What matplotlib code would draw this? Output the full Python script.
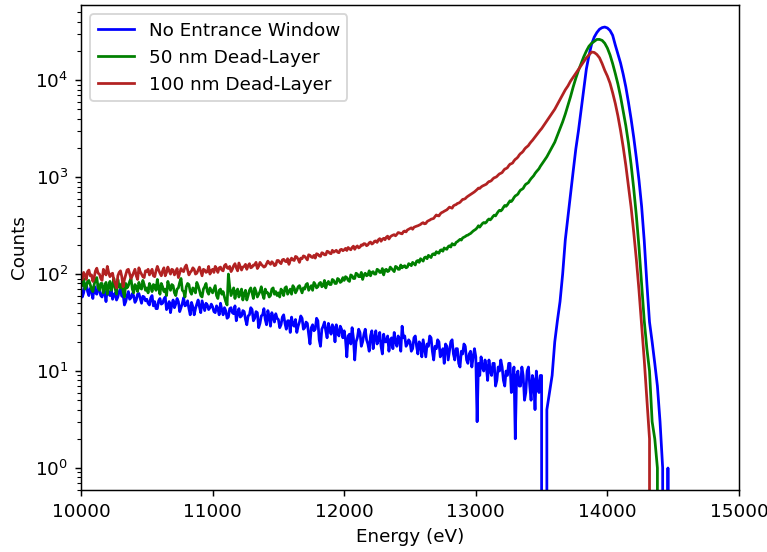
import numpy as np
import matplotlib
matplotlib.use("Agg")
import matplotlib.pyplot as plt

# ---- Data -------------------------------------------------------------
# Low-energy part: 10 eV bins from 10000 eV; peak part: 20 eV bins from 13500 eV
noisy_start, noisy_step = 10000, 10
peak_start, peak_step = 13500, 20

no_window_low = [
    72,58, 64,76, 80,66, 60,71, 70,56, 75,64, 62,78, 68,60, 58,67, 66,52, 72,63, 60,69, 55,61, 64,54, 58,66, 70,59, 62,48, 52,60, 66,55, 57,63, 60,51, 54,62, 63,56, 50,59, 58,53,
    55,50, 48,57, 60,47, 52,44, 44,53, 56,49, 50,55, 58,43, 46,52, 40,48, 54,45, 49,56, 52,41, 45,50, 57,47, 48,53, 44,38, 51,46, 38,44, 49,54, 46,40, 53,47, 42,50, 48,43, 45,49,
    46,41, 40,47, 44,38, 50,43, 38,45, 42,35, 36,44, 45,40, 39,47, 33,39, 44,36, 37,42, 41,34, 30,37, 38,45, 43,33, 35,41, 40,28, 31,37, 38,44, 34,30, 42,36, 29,40, 36,32, 39,35,
    34,28, 30,36, 38,31, 27,33, 33,25, 36,30, 29,34, 25,29, 32,37, 35,27, 28,32, 31,24, 19,28, 30,26, 27,35, 33,21, 18,27, 29,32, 26,22, 31,27, 24,30, 28,20, 30,25, 23,29, 27,22,
    26,21, 14,23, 24,19, 28,22, 13,20, 22,27, 25,18, 20,24, 27,21, 19,16, 23,26, 17,22, 26,19, 21,25, 18,15, 24,20, 20,23, 16,21, 22,17, 25,20, 18,23, 21,16, 29,22, 23,18, 19,21,
    20,16, 17,22, 23,18, 15,20, 19,14, 21,17, 14,19, 18,23, 22,16, 13,18, 17,21, 20,14, 15,17, 12,19, 18,13, 16,20, 21,15, 13,17, 17,12, 11,16, 15,19, 18,13, 12,15, 16,11, 14,17,
    14,3, 12,9, 14,11, 10,13, 11,8, 13,10, 9,12, 12,7, 8,11, 10,13, 11,8, 7,10, 9,12, 12,6, 8,11, 2,9, 10,7, 7,11, 9,5, 6,10, 11,7, 5,9, 8,4, 10,7, 6,9,
]
no_window_peak = [
    9, 0, 4, 6, 9, 20, 33, 52, 100, 225, 390, 680, 1150, 1950, 3000,
    4900, 8000, 13000, 18000, 23500, 27800, 31000, 33500, 34800, 35300,
    34500, 32500, 29000, 23000, 18500, 15000, 11500, 8500, 5900, 3980,
    2570, 1580, 930, 500, 220, 80, 32, 20, 12, 7, 3, 1, 0, 1, 0,
]

dead_50_low = [
    82,76, 90,70, 74,84, 86,78, 70,66, 78,88, 92,72, 68,80, 80,64, 74,82, 62,75, 84,68, 76,90, 70,62, 88,74, 72,80, 66,58, 80,72, 76,84, 90,70, 64,78, 74,66, 82,72, 70,86, 78,68,
    72,64, 80,74, 66,78, 76,68, 88,72, 62,80, 74,66, 70,60, 84,74, 68,78, 76,64, 60,70, 72,82, 90,68, 66,58, 74,80, 78,66, 62,72, 70,64, 82,76, 68,60, 58,70, 74,80, 66,62, 72,68,
    64,70, 76,60, 56,68, 70,62, 66,58, 52,48, 100,74, 60,66, 72,56, 66,70, 58,64, 70,54, 62,68, 54,60, 68,72, 64,56, 72,66, 58,62, 66,74, 62,56, 70,64, 64,58, 60,70, 72,62, 66,60,
    64,58, 70,66, 60,72, 74,62, 66,70, 62,76, 72,64, 68,74, 76,70, 64,72, 70,78, 80,68, 72,76, 68,82, 78,72, 74,80, 82,74, 76,86, 72,80, 84,78, 78,88, 86,80, 80,90, 88,82, 84,92,
    86,94, 92,86, 84,98, 96,90, 90,102, 100,94, 94,104, 88,98, 102,96, 98,108, 96,104, 106,100, 100,112, 110,104, 104,114, 98,110, 112,106, 108,118, 114,110, 106,120, 118,112, 112,124, 116,120, 122,116, 118,128,
    126,122, 132,128, 124,136, 138,132, 144,140, 136,148, 150,144, 156,152, 148,160, 162,158, 170,166, 164,176, 178,172, 186,182, 180,192, 196,190, 206,200, 200,212, 216,222, 228,224, 236,240, 244,250, 252,258, 262,270, 278,284,
    290,300, 315,305, 318,332, 340,335, 342,360, 370,362, 375,392, 405,398, 420,440, 455,448, 462,488, 510,500, 518,545, 570,560, 582,615, 640,652, 668,705, 735,748, 765,810, 845,860, 880,925, 965,1000, 1035,1090, 1135,1175, 1220,1290,
]
dead_50_peak = [
    1349, 1479, 1622, 1820, 2042, 2291, 2692, 3162, 3715, 4467, 5495, 6761, 8511, 10470, 12590,
    14790, 17380, 19950, 22390, 23990, 25120, 26300, 26300, 25700, 24000,
    21400, 18200, 14800, 11700, 9100, 6760, 4790, 3390, 2240, 1350,
    760, 400, 190, 79, 33, 17, 10, 3, 2, 1, 0, 0, 0, 0, 0,
]

dead_100_low = [
    95,88, 104,98, 88,106, 110,96, 98,84, 92,108, 115,102, 100,90, 86,112, 106,98, 120,104, 94,100, 102,86, 80,72, 96,104, 108,94, 74,88, 98,110, 112,100, 90,96, 104,112, 96,88, 116,106, 100,94, 92,108,
    106,112, 98,104, 112,96, 94,108, 120,110, 102,96, 108,116, 96,104, 118,108, 100,112, 110,98, 104,114, 92,102, 114,108, 106,118, 124,110, 98,104, 108,116, 112,100, 102,110, 118,106, 96,112, 110,104, 106,120, 100,108,
    112,104, 120,114, 104,116, 118,110, 108,122, 126,116, 114,120, 106,112, 122,128, 116,108, 130,120, 110,118, 120,126, 112,122, 128,116, 118,124, 124,132, 114,120, 132,126, 122,118, 120,128, 136,130, 126,134, 130,122, 124,138,
    138,132, 128,140, 142,136, 134,144, 126,138, 146,140, 138,152, 150,142, 132,146, 144,154, 152,146, 140,158, 156,150, 148,156, 146,162, 160,154, 152,166, 164,158, 158,172, 170,164, 162,176, 168,172, 176,168, 166,178, 180,174,
    178,184, 175,188, 182,178, 188,194, 180,190, 195,186, 190,200, 198,206, 205,196, 200,210, 214,204, 208,218, 220,212, 226,232, 218,228, 234,226, 240,246, 230,242, 248,252, 255,248, 257,268, 266,262, 260,274, 278,272, 285,290,
    295,300, 290,304, 308,312, 315,320, 325,334, 339,330, 332,348, 355,360, 368,372, 375,392, 407,400, 398,418, 430,436, 445,452, 460,475, 490,484, 478,505, 515,520, 535,540, 550,570, 589,592, 600,620, 635,648, 660,675, 690,705,
    724,745, 770,765, 790,808, 820,830, 845,875, 900,905, 925,960, 985,995, 1015,1050, 1080,1095, 1115,1165, 1210,1225, 1250,1310, 1360,1375, 1400,1470, 1525,1560, 1610,1690, 1750,1790, 1850,1940, 2010,2060, 2120,2220, 2310,2390, 2490,2600, 2710,2820, 2930,3050,
]
dead_100_peak = [
    3162, 3467, 3802, 4169, 4571, 5012, 5623, 6310, 7079, 7943, 8710, 9772, 10720, 11750, 12880,
    14130, 15490, 16980, 18200, 19500, 19300, 18400, 17000, 14800, 12600,
    11000, 9300, 7400, 5750, 4270, 3020, 2040, 1320, 810, 490,
    270, 141, 68, 30, 13, 5, 2, 0, 0, 0, 0, 0, 0, 0, 0,
]

labels = ["No Entrance Window", "50 nm Dead-Layer", "100 nm Dead-Layer"]
colors = ["blue", "green", "firebrick"]


def build(low, peak):
    x = np.concatenate([noisy_start + noisy_step * np.arange(len(low)),
                        peak_start + peak_step * np.arange(len(peak))])
    y = np.array(list(low) + list(peak), dtype=float)
    return x, y


series = [build(no_window_low, no_window_peak),
          build(dead_50_low, dead_50_peak),
          build(dead_100_low, dead_100_peak)]

# ---- Figure -----------------------------------------------------------
W, H, DPI = 767, 552, 132
fig = plt.figure(figsize=(W / DPI, H / DPI), dpi=DPI)
ax = fig.add_axes([81 / W, 1 - 490 / H, (739 - 81) / W, (490 - 5) / H])

for (x, y), lab, col in zip(series, labels, colors):
    ax.plot(x, y, color=col, label=lab)

ax.set_yscale("log")
ax.set_xlim(10000, 15000)
ax.set_ylim(10 ** -0.227, 10 ** 4.775)
ax.set_xlabel("Energy (eV)")
ax.set_ylabel("Counts")
ax.legend(loc="upper left")

fig.savefig("out.png", dpi=DPI)
